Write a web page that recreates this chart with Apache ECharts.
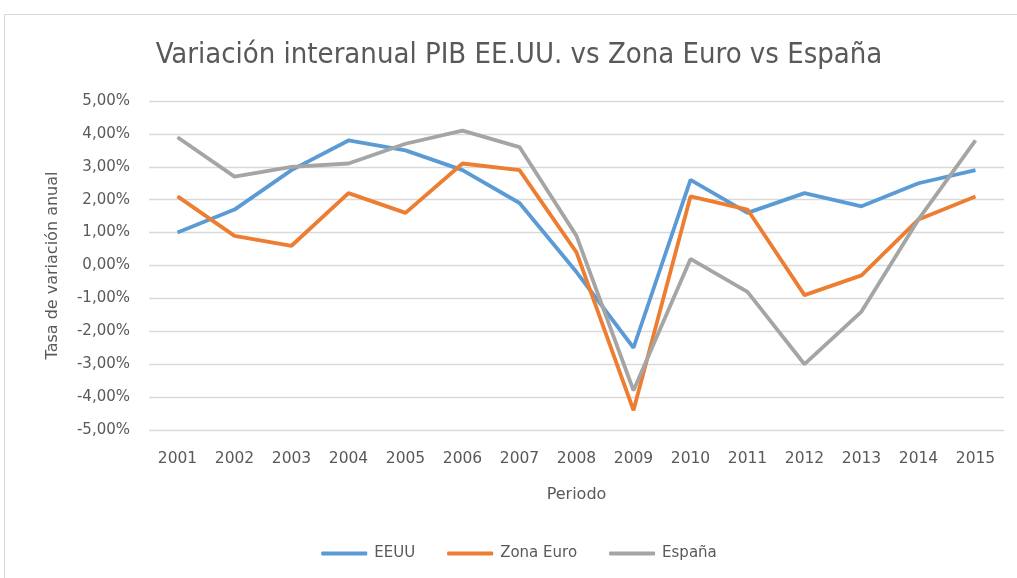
<!DOCTYPE html>
<html>
<head>
<meta charset="utf-8">
<script src="https://cdn.jsdelivr.net/npm/echarts@6/dist/echarts.min.js"></script>
<style>
  html, body { margin: 0; padding: 0; background: #fff; overflow: hidden; }
  #chart { position: absolute; left: 4px; top: 14px; width: 1030px; height: 564px;
           border: 1px solid #d9d9d9; border-bottom: none; box-sizing: border-box; }
</style>
</head>
<body>
<div id="chart"></div>
<script>
const years = ["2001","2002","2003","2004","2005","2006","2007","2008","2009","2010","2011","2012","2013","2014","2015"]
const eeuu = [1.0, 1.7, 2.9, 3.8, 3.5, 2.9, 1.9, -0.2, -2.5, 2.6, 1.6, 2.2, 1.8, 2.5, 2.9]
const zonaEuro = [2.1, 0.9, 0.6, 2.2, 1.6, 3.1, 2.9, 0.4, -4.4, 2.1, 1.7, -0.9, -0.3, 1.4, 2.1]
const espana = [3.9, 2.7, 3.0, 3.1, 3.7, 4.1, 3.6, 0.9, -3.8, 0.2, -0.8, -3.0, -1.4, 1.4, 3.8]

const chart = echarts.init(document.getElementById("chart"))
const txt = "#595959"
const font = "'DejaVu Sans', sans-serif"

const mkLine = (name, data, color) => ({
  name, type: "line", data,
  showSymbol: false, symbol: "none",
  lineStyle: { width: 3.8, color },
  itemStyle: { color }
})

chart.setOption({
  animation: false,
  title: {
    text: "Variación interanual PIB EE.UU. vs Zona Euro vs España",
    left: "center", top: 21,
    textStyle: { fontFamily: "'Liberation Sans Narrow', 'DejaVu Sans Condensed', sans-serif",
                 fontSize: 29, fontWeight: "normal", color: txt }
  },
  legend: {
    bottom: 12, left: "center",
    itemWidth: 46, itemHeight: 4, itemGap: 32,
    icon: "roundRect",
    textStyle: { fontFamily: font, fontSize: 15, color: txt, padding: [0, 0, 0, 2] },
    data: ["EEUU", "Zona Euro", "España"]
  },
  grid: { left: 144, right: 29, top: 86, bottom: 148 },
  xAxis: {
    type: "category", data: years, boundaryGap: true,
    name: "Periodo", nameLocation: "middle", nameGap: 57,
    nameTextStyle: { fontFamily: font, fontSize: 16, color: txt },
    axisLine: { show: false }, axisTick: { show: false },
    axisLabel: { fontFamily: font, fontSize: 15.5, color: txt, margin: 21 }
  },
  yAxis: {
    type: "value", min: -5, max: 5, interval: 1,
    name: "Tasa de variación anual", nameLocation: "middle", nameGap: 88,
    nameTextStyle: { fontFamily: font, fontSize: 16, color: txt },
    axisLine: { show: false }, axisTick: { show: false },
    splitLine: { lineStyle: { color: "#d9d9d9", width: 1.3 } },
    axisLabel: { fontFamily: font, fontSize: 15, color: txt, margin: 19,
                 formatter: v => v.toFixed(2).replace(".", ",") + "%" }
  },
  series: [
    mkLine("EEUU", eeuu, "#5B9BD5"),
    mkLine("Zona Euro", zonaEuro, "#ED7D31"),
    mkLine("España", espana, "#A5A5A5")
  ]
})
</script>
</body>
</html>
